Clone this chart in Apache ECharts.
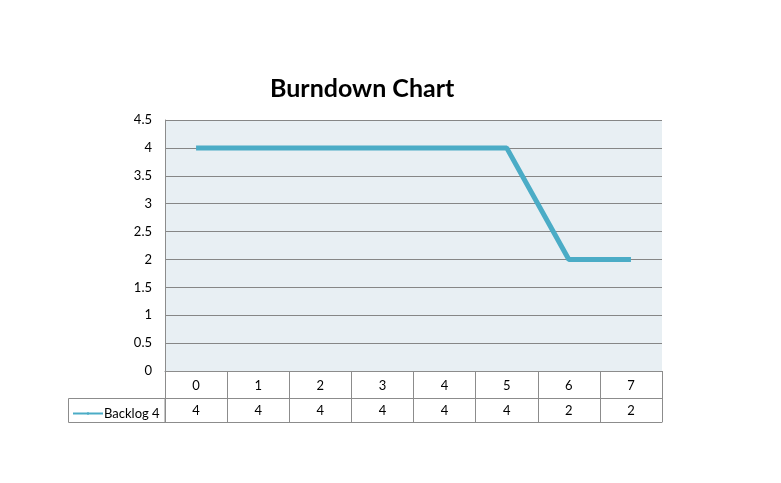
<!DOCTYPE html>
<html style="height: 100%">
<head>
  <meta charset="utf-8">
  <script type="text/javascript" src="https://cdn.jsdelivr.net/npm/echarts@6/dist/echarts.min.js"></script>
</head>
<body style="height: 100%; margin: 0; background: #fff">
  <div id="container" style="width: 781px; height: 483px"></div>
  <script type="text/javascript">
    // chart data
    var days = ['0', '1', '2', '3', '4', '5', '6', '7'];
    var backlog = [4, 4, 4, 4, 4, 4, 2, 2];
    var seriesName = 'Backlog 4';

    var font = 'Lato, "Open Sans", sans-serif';
    var border = '#8c8c8c';

    var myChart = echarts.init(document.getElementById('container'));

    var option = {
      animation: false,
      title: {
        text: 'Burndown Chart',
        left: 265,
        top: 71,
        textStyle: { fontFamily: font, fontSize: 25, fontWeight: 'bold', color: '#000' }
      },
      legend: {
        data: [seriesName],
        left: 67,
        top: 402,
        itemWidth: 30,
        itemHeight: 3,
        itemGap: 2,
        textStyle: { fontFamily: font, fontSize: 13, color: '#000', padding: [0, 0, 0, -4] }
      },
      grid: {
        left: 165,
        right: 119,
        top: 120,
        bottom: 112,
        show: true,
        backgroundColor: '#e8eff3',
        borderWidth: 0
      },
      xAxis: [{
        type: 'category',
        data: days,
        position: 'bottom',
        axisLine: { lineStyle: { color: border } },
        axisTick: { show: true, interval: 0, length: 27, lineStyle: { color: border } },
        axisLabel: { interval: 0, margin: 8, color: '#000', fontFamily: font, fontSize: 13 }
      }, {
        type: 'category',
        data: backlog,
        position: 'bottom',
        offset: 27,
        axisLine: { lineStyle: { color: border } },
        axisTick: { show: true, interval: 0, length: 24, lineStyle: { color: border } },
        axisLabel: { interval: 0, margin: 6, color: '#000', fontFamily: font, fontSize: 13 }
      }, {
        type: 'category',
        data: days,
        position: 'bottom',
        offset: 51,
        axisLine: { lineStyle: { color: border } },
        axisTick: { show: false },
        axisLabel: { show: false }
      }],
      yAxis: {
        type: 'value',
        min: 0,
        max: 4.5,
        interval: 0.5,
        axisLine: { show: true, lineStyle: { color: border } },
        axisTick: { show: false },
        axisLabel: { margin: 13, color: '#000', fontFamily: font, fontSize: 13 },
        splitLine: { lineStyle: { color: '#868686' } }
      },
      graphic: [{
        type: 'rect',
        shape: { x: 68.5, y: 398.5, width: 96.5, height: 24 },
        style: { fill: 'none', stroke: border, lineWidth: 1 }
      }],
      series: [{
        name: seriesName,
        type: 'line',
        xAxisIndex: 0,
        data: backlog,
        symbol: 'none',
        lineStyle: { color: '#4bacc6', width: 5 },
        itemStyle: { color: '#4bacc6' }
      }]
    };
    myChart.setOption(option);
  </script>
</body>
</html>
